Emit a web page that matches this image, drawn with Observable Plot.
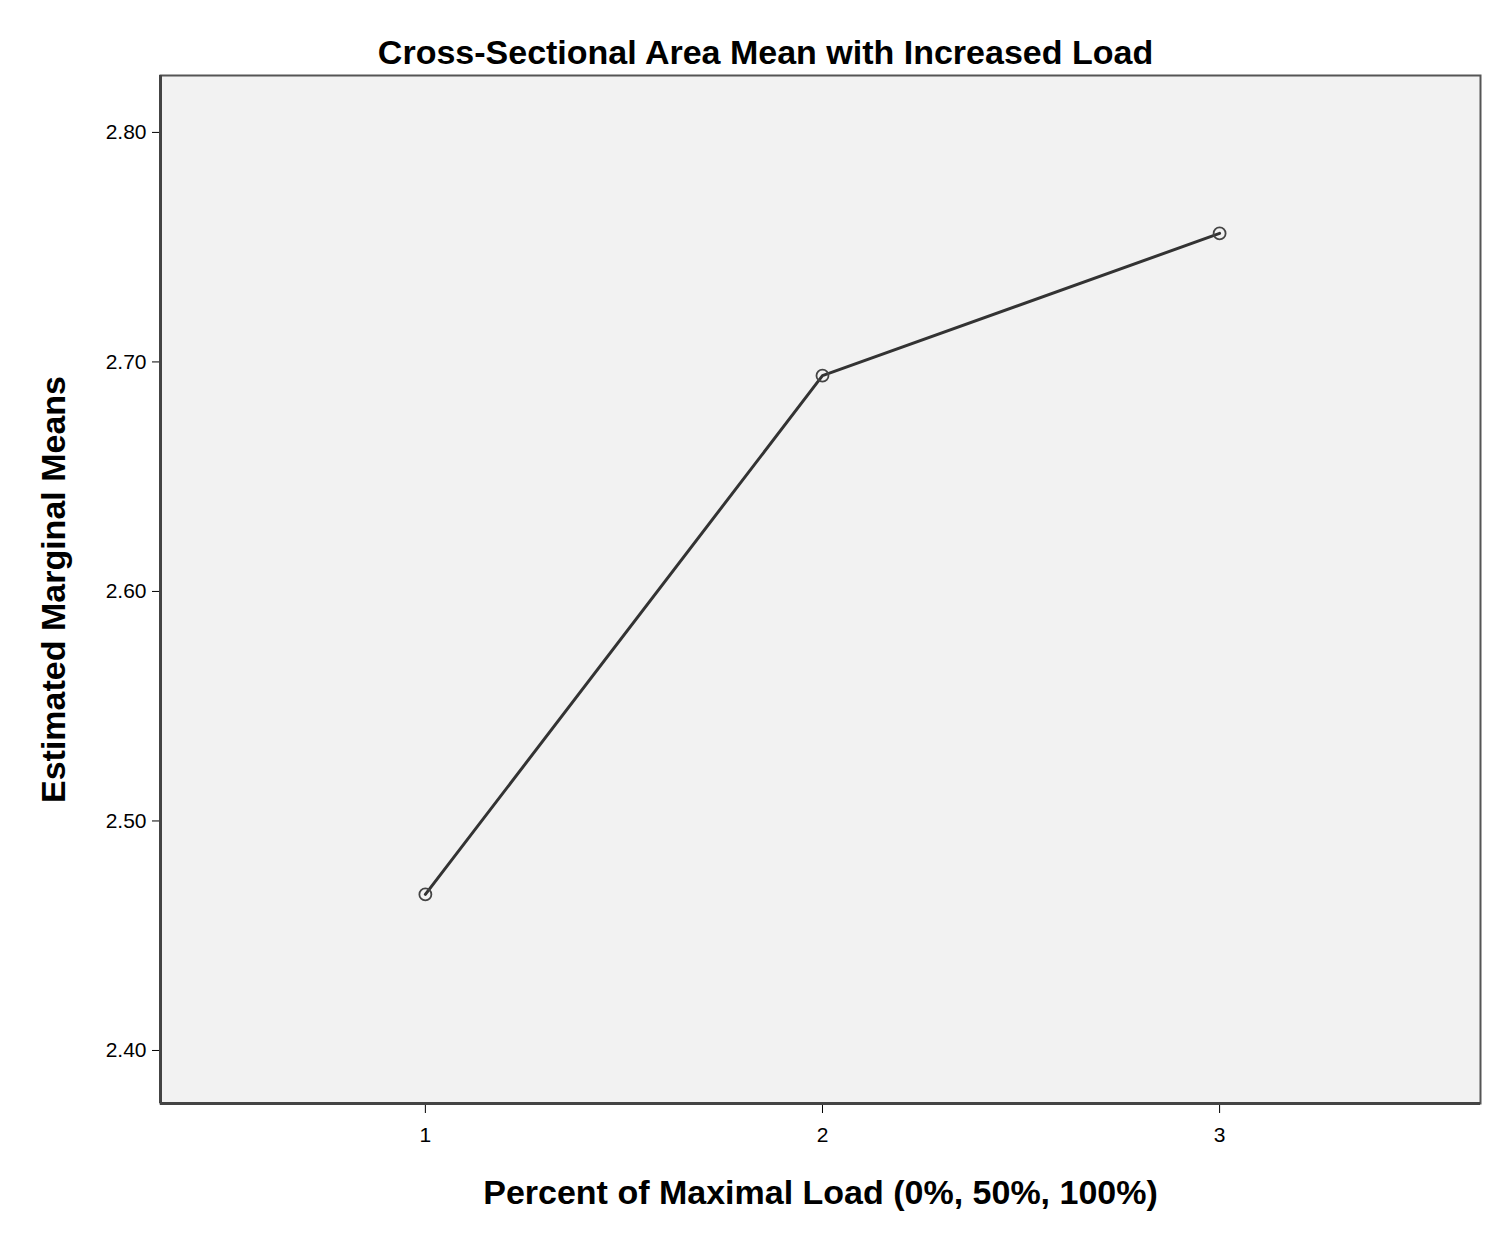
<!DOCTYPE html>
<html><head>
<meta charset="utf-8">
<script src="https://cdn.jsdelivr.net/npm/d3@7"></script>
<script src="https://cdn.jsdelivr.net/npm/@observablehq/plot@0.6"></script>
<style>body{margin:0;background:#fff;font-family:Arial,"Liberation Sans",sans-serif}</style>
</head><body>
<div id="c"></div>
<script>
const loadLevels = [1, 2, 3];
const means = [2.468, 2.694, 2.756];
const yTicks = [2.40, 2.50, 2.60, 2.70, 2.80];
const title = "Cross-Sectional Area Mean with Increased Load";
const data = loadLevels.map((x, i) => ({x, y: means[i]}));
const chart = Plot.plot({
  width: 1500, height: 1249,
  marginTop: 75, marginLeft: 160, marginRight: 20, marginBottom: 146,
  style: {fontFamily: "Arial, 'Liberation Sans', sans-serif", fontSize: "21px", background: "#fff"},
  x: {domain: [0.333, 3.657], ticks: loadLevels, tickFormat: d => String(d), tickSize: 10, tickPadding: 14,
      label: "Percent of Maximal Load (0%, 50%, 100%)", labelArrow: "none", labelAnchor: "center", labelOffset: 100},
  y: {domain: [2.3769, 2.8248], ticks: yTicks, tickFormat: d3.format(".2f"), tickSize: 8, tickPadding: 6,
      label: "Estimated Marginal Means", labelArrow: "none", labelAnchor: "center", labelOffset: 120},
  marks: [
    Plot.frame({fill: "#f2f2f2", stroke: "#555", strokeWidth: 2}),
    Plot.ruleX([0.333], {stroke: "#444", strokeWidth: 3}),
    Plot.ruleY([2.3769], {stroke: "#444", strokeWidth: 3}),
    Plot.line(data, {x: "x", y: "y", stroke: "#333", strokeWidth: 3}),
    Plot.dot(data, {x: "x", y: "y", r: 6, stroke: "#444", strokeWidth: 1.8, fill: "none"}),
    Plot.text([title], {frameAnchor: "top", dy: -22, dx: -55, lineAnchor: "middle", text: d => d, fontSize: 34, fontWeight: "bold", fill: "#000"})
  ]
});
chart.querySelectorAll('[aria-label="x-axis label"] text, [aria-label="y-axis label"] text').forEach(t => {
  t.setAttribute("font-size", "34"); t.setAttribute("font-weight", "bold"); t.setAttribute("fill", "#000");
});
document.getElementById("c").appendChild(chart);
</script>
</body></html>
